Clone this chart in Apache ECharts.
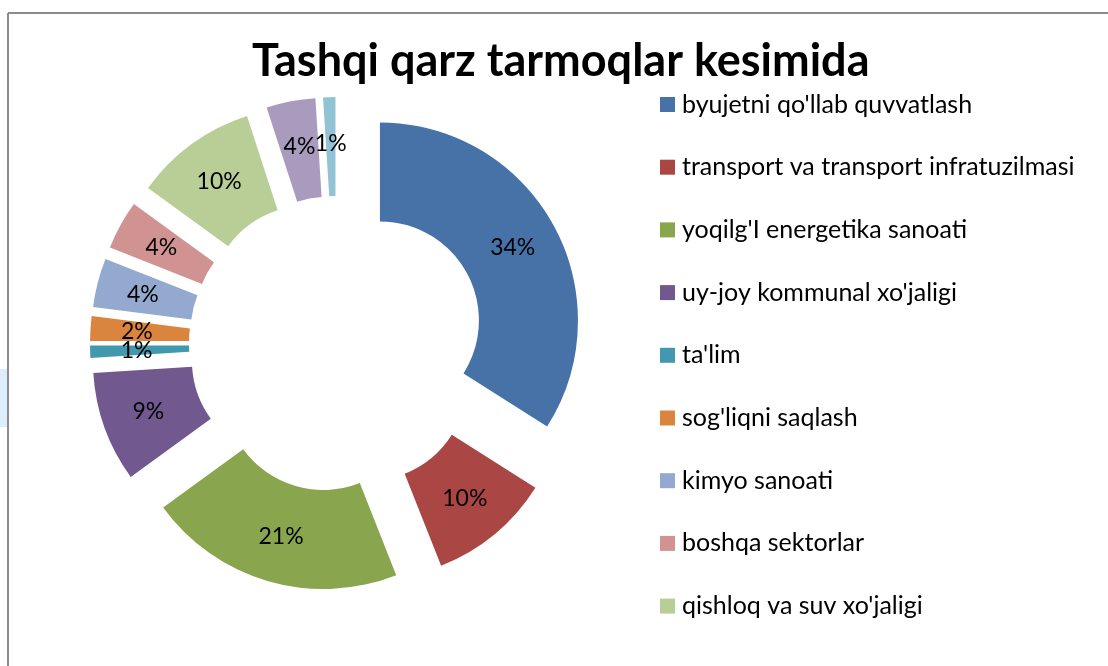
<!DOCTYPE html>
<html>
<head>
<meta charset="utf-8">
<script src="https://cdn.jsdelivr.net/npm/echarts@6/dist/echarts.min.js"></script>
<style>
  html, body { margin: 0; padding: 0; background: #fff; }
  #pieDiv { width: 1108px; height: 666px; }
</style>
</head>
<body>
<div id="pieDiv"></div>
<script>
// sectors clockwise from 12 o'clock; the last two are cut off from the legend in the source
var sectors = [
	"byujetni qo'llab quvvatlash",
	"transport va transport infratuzilmasi",
	"yoqilg'I energetika sanoati",
	"uy-joy kommunal xo'jaligi",
	"ta'lim",
	"sog'liqni saqlash",
	"kimyo sanoati",
	"boshqa sektorlar",
	"qishloq va suv xo'jaligi",
	"10-tarmoq",
	"11-tarmoq"
];
var shares = [34, 10, 21, 9, 1, 2, 4, 4, 10, 4, 1];
var sectorColors = ['#4672A8', '#AA4643', '#89A54E', '#71588F', '#4198AF', '#DB843D',
	'#93A9CF', '#D19392', '#B9CD96', '#A99BBD', '#92C3D4'];
var legendNames = sectors.slice(0, 9);

var pieDiv = document.getElementById("pieDiv");
var pchart = echarts.init(pieDiv);

var pieData = [];
for (var i = 0; i < sectors.length; i++) {
	pieData.push({
		name: sectors[i],
		value: shares[i],
		selected: true,
		itemStyle: { color: sectorColors[i] }
	});
}

var option = {
	animation: false,
	title: {
		text: 'Tashqi qarz tarmoqlar kesimida',
		left: 252,
		top: 39,
		padding: 0,
		textStyle: {
			fontFamily: 'Lato',
			fontWeight: 'bold',
			fontSize: 45,
			color: '#000'
		}
	},
	legend: {
		data: legendNames,
		orient: 'vertical',
		left: 660,
		top: 92,
		padding: 0,
		icon: 'rect',
		itemWidth: 15,
		itemHeight: 15,
		itemGap: 37.7,
		selectedMode: false,
		textStyle: {
			fontFamily: 'Lato',
			fontSize: 25,
			lineHeight: 25,
			color: '#000',
			padding: [0, 0, 0, 2]
		}
	},
	graphic: [
		{ type: 'rect', shape: { x: 0, y: 369, width: 7, height: 58 }, style: { fill: '#DCEEFD' } },
		{ type: 'line', shape: { x1: 8, y1: 13, x2: 1108, y2: 13 }, style: { stroke: '#8C8C8C', lineWidth: 2 } },
		{ type: 'line', shape: { x1: 8, y1: 13, x2: 8, y2: 666 }, style: { stroke: '#8C8C8C', lineWidth: 2 } }
	],
	series: [
		{
			name: 'Tashqi qarz',
			type: 'pie',
			center: [337, 344],
			radius: [99, 198],
			startAngle: 90,
			clockwise: true,
			selectedMode: 'multiple',
			selectedOffset: 49,
			minShowLabelAngle: 0,
			emphasis: { disabled: true },
			itemStyle: { borderWidth: 0 },
			label: {
				show: true,
				position: 'inside',
				formatter: '{c}%',
				overflow: 'none',
				fontFamily: 'Lato',
				fontSize: 23,
				color: '#000'
			},
			labelLayout: { hideOverlap: false },
			labelLine: { show: false },
			data: pieData
		}
	]
};
pchart.setOption(option);
</script>
</body>
</html>
